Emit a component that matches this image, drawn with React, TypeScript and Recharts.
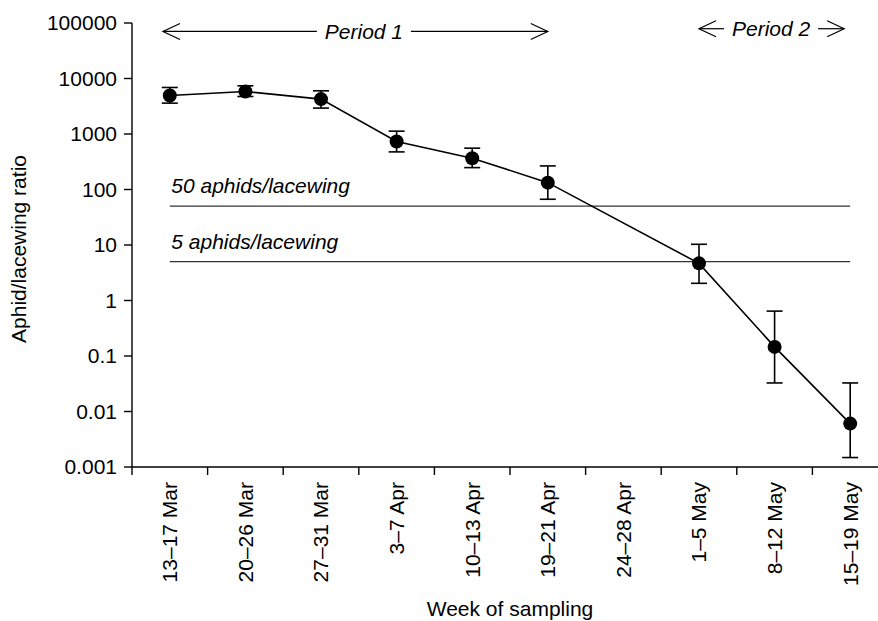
import React from 'react';
import { ComposedChart, Line, XAxis, YAxis, ErrorBar, ReferenceLine } from 'recharts';

// ---------- data ----------
const weeks = [
  '13–17 Mar', '20–26 Mar', '27–31 Mar', '3–7 Apr', '10–13 Apr',
  '19–21 Apr', '24–28 Apr', '1–5 May', '8–12 May', '15–19 May',
];
const ratio = [4940, 5830, 4250, 731, 366, 133, null, 4.67, 0.146, 0.00605];
const ratioLow = [3600, 4740, 2930, 476, 248, 66.7, null, 2.04, 0.0327, 0.00148];
const ratioHigh = [6890, 7390, 6000, 1125, 556, 266, null, 10.3, 0.644, 0.0327];
const yTicks = [0.001, 0.01, 0.1, 1, 10, 100, 1000, 10000, 100000];
const thresholdValues = [50, 5];
const thresholdLabels = ['50 aphids/lacewing', '5 aphids/lacewing'];
const periodLabels = ['Period 1', 'Period 2'];
const periodFrom = [0.41, 7.5];
const periodTo = [5.5, 9.42];
const periodLevel = [70500, 78900];

// ---------- styles ----------
const FONT = '"Liberation Sans", Arial, Helvetica, sans-serif';
const FS = 21;
const periodTextCenterShift = [8.5, -0.5];
const periodHalfGap = 47;

const data = weeks
  .map((w, i) => ({
    x: i + 0.5,
    v: ratio[i],
    err: ratio[i] == null ? null : [ratio[i]! - ratioLow[i]!, ratioHigh[i]! - ratio[i]!],
  }))
  .filter((d) => d.v != null);

const xTicks: number[] = [];
for (let i = 0; i <= weeks.length * 2; i++) xTicks.push(i / 2);

const XTick = (props: any) => {
  const { x, y, payload } = props;
  const v = payload.value;
  if (Math.abs(v - Math.round(v)) < 1e-9) {
    return <line x1={x} x2={x} y1={y} y2={y + 8} stroke="#000" strokeWidth={1.4} />;
  }
  const label = weeks[Math.floor(v)];
  const ty = y + 15;
  return (
    <text
      x={x}
      y={ty}
      transform={`rotate(-90, ${x}, ${ty})`}
      textAnchor="end"
      dy="0.355em"
      fontFamily={FONT}
      fontSize={FS}
      fill="#000"
    >
      {label}
    </text>
  );
};

const thresholdShape = (label: string) => (p: any) => (
  <g>
    <line x1={p.x1} y1={p.y1} x2={p.x2} y2={p.y2} stroke="#333" strokeWidth={1.2} />
    <text x={p.x1 + 1.5} y={p.y1 - 13} fontFamily={FONT} fontSize={FS} fontStyle="italic" fill="#000">
      {label}
    </text>
  </g>
);

const periodShape = (label: string, shift: number) => (p: any) => {
  const { x1, x2, y1 } = p;
  const cx = (x1 + x2) / 2 + shift;
  const ah = 17;
  const aw = 8;
  return (
    <g stroke="#000" strokeWidth={1.2} fill="none">
      <line x1={x1} y1={y1} x2={cx - periodHalfGap} y2={y1} />
      <polyline points={`${x1 + ah},${y1 - aw} ${x1},${y1} ${x1 + ah},${y1 + aw}`} />
      <line x1={cx + periodHalfGap} y1={y1} x2={x2} y2={y1} />
      <polyline points={`${x2 - ah},${y1 - aw} ${x2},${y1} ${x2 - ah},${y1 + aw}`} />
      <text
        x={cx}
        y={y1 + 7.5}
        textAnchor="middle"
        fontFamily={FONT}
        fontSize={FS}
        fontStyle="italic"
        fill="#000"
        stroke="none"
      >
        {label}
      </text>
    </g>
  );
};

export default function App() {
  return (
    <div
      style={{
        position: 'fixed',
        left: 0,
        top: 0,
        width: 878,
        height: 621,
        overflow: 'hidden',
        background: '#fff',
      }}
    >
      <ComposedChart
        width={920}
        height={621}
        data={data}
        margin={{ top: 23, right: 32, bottom: 0, left: 0 }}
        style={{ fontFamily: FONT }}
      >
        <XAxis
          type="number"
          dataKey="x"
          domain={[0, weeks.length]}
          ticks={xTicks}
          interval={0}
          tickLine={false}
          tickSize={0}
          tickMargin={0}
          tick={<XTick />}
          axisLine={{ stroke: '#000', strokeWidth: 1.4 }}
          height={154}
          label={{
            value: 'Week of sampling',
            position: 'insideBottom',
            offset: 5,
            style: { fontFamily: FONT, fontSize: FS, fill: '#000' },
          }}
        />
        <YAxis
          type="number"
          scale="log"
          domain={[0.001, 100000]}
          ticks={yTicks}
          interval={0}
          allowDataOverflow
          width={132}
          tickSize={8}
          tickMargin={7}
          tickFormatter={(v: number) => String(v)}
          tick={{ fontFamily: FONT, fontSize: FS, fill: '#000' }}
          tickLine={{ stroke: '#000', strokeWidth: 1.4 }}
          axisLine={{ stroke: '#000', strokeWidth: 1.4 }}
          label={{
            content: (p: any) => {
              const vb = p.viewBox || { x: 0, y: 23, width: 132, height: 444 };
              const cx = 18;
              const cy = vb.y + vb.height / 2 + 4;
              return (
                <text
                  x={cx}
                  y={cy}
                  transform={`rotate(-90, ${cx}, ${cy})`}
                  textAnchor="middle"
                  dominantBaseline="central"
                  fontFamily={FONT}
                  fontSize={FS}
                  fill="#000"
                >
                  Aphid/lacewing ratio
                </text>
              );
            },
          }}
        />
        {thresholdValues.map((t, i) => (
          <ReferenceLine
            key={'t' + i}
            segment={[
              { x: 0.5, y: t },
              { x: weeks.length - 0.5, y: t },
            ]}
            shape={thresholdShape(thresholdLabels[i])}
          />
        ))}
        {periodLabels.map((lab, i) => (
          <ReferenceLine
            key={'p' + i}
            segment={[
              { x: periodFrom[i], y: periodLevel[i] },
              { x: periodTo[i], y: periodLevel[i] },
            ]}
            shape={periodShape(lab, periodTextCenterShift[i])}
          />
        ))}
        <Line
          type="linear"
          dataKey="v"
          stroke="#000"
          strokeWidth={1.6}
          dot={{ r: 7, fill: '#000', stroke: '#000', strokeWidth: 0 }}
          activeDot={false}
          isAnimationActive={false}
          connectNulls
        >
          <ErrorBar dataKey="err" width={8} stroke="#000" strokeWidth={1.6} direction="y" isAnimationActive={false} />
        </Line>
      </ComposedChart>
    </div>
  );
}
